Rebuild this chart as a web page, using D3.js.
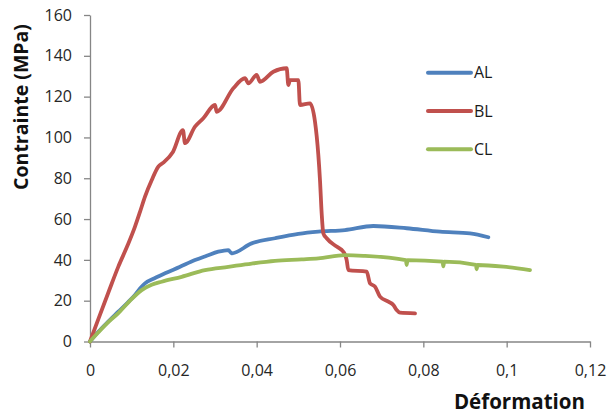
<!DOCTYPE html>
<html>
<head>
<meta charset="utf-8">
<script src="https://cdn.jsdelivr.net/npm/d3@7"></script>
<style>
  body { margin: 0; background: #fff; }
  svg { display: block; font-family: "Open Sans", sans-serif; }
</style>
</head>
<body>
<div id="chart"></div>
<script>
'use strict';

// strain (déformation) and stress (MPa)
let alStrain = [0, 0.002, 0.0045, 0.0068, 0.009, 0.0108, 0.012, 0.0132, 0.0155, 0.018, 0.0215, 0.0252, 0.028, 0.0308, 0.0332, 0.034, 0.0388, 0.0444, 0.05, 0.0548, 0.0612, 0.068, 0.076, 0.084, 0.0912, 0.0956];
let alStress = [0, 4.8, 10, 14.6, 19, 22.8, 26, 28.5, 31, 33.4, 36.5, 39.9, 42, 44, 44.8, 43.2, 48.1, 50.6, 52.7, 53.8, 54.6, 56.6, 55.5, 53.8, 53, 51.1];

let blStrain = [0, 0.002, 0.0045, 0.0068, 0.009, 0.0108, 0.012, 0.0132, 0.0148, 0.0164, 0.0175, 0.0199, 0.0223, 0.0228, 0.0252, 0.0272, 0.030, 0.0304, 0.0344, 0.0372, 0.038, 0.04, 0.0408, 0.044, 0.0472, 0.0476, 0.048, 0.05, 0.0504, 0.0528, 0.054, 0.0548, 0.0552, 0.0556, 0.056, 0.0568, 0.0592, 0.0608, 0.0616, 0.062, 0.0664, 0.0672, 0.0684, 0.0696, 0.0716, 0.0728, 0.0736, 0.0744, 0.078];
let blStress = [0, 11, 24.5, 36.7, 47, 56.3, 63.5, 71, 79, 85.7, 87.5, 92.9, 103.6, 97.2, 105.3, 109.4, 115.9, 112.6, 124.1, 129, 126.5, 130.6, 127.3, 132.2, 133.9, 125.7, 128.1, 128.1, 115.9, 116.7, 107.7, 91.4, 79, 62.8, 53, 50.6, 46.5, 44, 39.9, 35, 34.2, 28.5, 26.9, 22, 19.5, 17.9, 15.4, 14.1, 13.8];

let clStrain = [0, 0.002, 0.0045, 0.0068, 0.0095, 0.0124, 0.0148, 0.0172, 0.022, 0.0276, 0.0332, 0.0388, 0.0444, 0.0508, 0.0548, 0.0612, 0.0656, 0.0758, 0.076, 0.0762, 0.0846, 0.0848, 0.085, 0.0926, 0.0928, 0.093, 0.0992, 0.1056];
let clStress = [0, 4.5, 9.8, 13.9, 19.8, 25.2, 27.8, 29.3, 31.7, 35, 36.6, 38.2, 39.5, 40.2, 40.7, 42.3, 42, 39.9, 37.5, 39.9, 39.1, 36.8, 39.1, 37.5, 35.4, 37.5, 36.7, 35];

let seriesNames = ['AL', 'BL', 'CL'];
let seriesColors = ['#4f81bd', '#c0504d', '#9bbb59'];

let xTicks = [0, 0.02, 0.04, 0.06, 0.08, 0.1, 0.12];
let yTicks = [0, 20, 40, 60, 80, 100, 120, 140, 160];

let series = [
    { name: seriesNames[0], color: seriesColors[0], values: d3.zip(alStrain, alStress) },
    { name: seriesNames[1], color: seriesColors[1], values: d3.zip(blStrain, blStress) },
    { name: seriesNames[2], color: seriesColors[2], values: d3.zip(clStrain, clStress) }
];

draw();

function draw() {
    let width = 609, height = 419;
    let margin = { left: 90, top: 15, right: 19, bottom: 77.5 };

    let svg = d3.select('#chart')
        .append('svg')
        .attr('width', width)
        .attr('height', height);

    svg.append('rect')
        .attr('width', width)
        .attr('height', height)
        .attr('fill', '#fff');

    let x = d3.scaleLinear()
        .domain([0, 0.12])
        .range([margin.left, width - margin.right]);

    let y = d3.scaleLinear()
        .domain([0, 160])
        .range([height - margin.bottom, margin.top]);

    let fmt = function (d) {
        return String(d).replace('.', ',');
    };

    let xAxis = svg.append('g')
        .attr('transform', 'translate(0,' + y(0) + ')')
        .call(d3.axisBottom(x).tickValues(xTicks).tickFormat(fmt).tickSize(6).tickSizeOuter(0).tickPadding(17));

    let yAxis = svg.append('g')
        .attr('transform', 'translate(' + x(0) + ',0)')
        .call(d3.axisLeft(y).tickValues(yTicks).tickSize(6).tickSizeOuter(0).tickPadding(12));

    [xAxis, yAxis].forEach(function (g) {
        g.selectAll('path, line').attr('stroke', '#868686').attr('stroke-width', 1.3);
        g.selectAll('text')
            .attr('fill', '#262626')
            .style('font-size', '16px')
            .style('font-family', '"Open Sans", sans-serif');
    });

    let line = d3.line()
        .x(function (d) { return x(d[0]); })
        .y(function (d) { return y(d[1]); })
        .curve(d3.curveMonotoneX);

    svg.append('g')
        .selectAll('path')
        .data(series)
        .enter()
        .append('path')
        .attr('d', function (d) { return line(d.values); })
        .attr('fill', 'none')
        .attr('stroke', function (d) { return d.color; })
        .attr('stroke-width', 3.8)
        .attr('stroke-linejoin', 'round')
        .attr('stroke-linecap', 'round');

    // legend
    let legend = svg.append('g')
        .selectAll('g')
        .data(series)
        .enter()
        .append('g')
        .attr('transform', function (d, i) {
            return 'translate(428,' + (72.7 + i * 38.3) + ')';
        });

    legend.append('line')
        .attr('x1', 0)
        .attr('x2', 43)
        .attr('stroke', function (d) { return d.color; })
        .attr('stroke-width', 4)
        .attr('stroke-linecap', 'round');

    legend.append('text')
        .attr('x', 46)
        .attr('dy', '0.35em')
        .attr('fill', '#1a1a1a')
        .style('font-size', '16px')
        .text(function (d) { return d.name; });

    // axis titles
    svg.append('text')
        .attr('transform', 'translate(28,107) rotate(-90)')
        .attr('text-anchor', 'middle')
        .attr('fill', '#111')
        .style('font-size', '19.5px')
        .style('font-weight', 'bold')
        .text('Contrainte (MPa)');

    svg.append('text')
        .attr('x', 585)
        .attr('y', 409)
        .attr('text-anchor', 'end')
        .attr('fill', '#111')
        .style('font-size', '20.5px')
        .style('font-weight', 'bold')
        .text('Déformation');
}
</script>
</body>
</html>
